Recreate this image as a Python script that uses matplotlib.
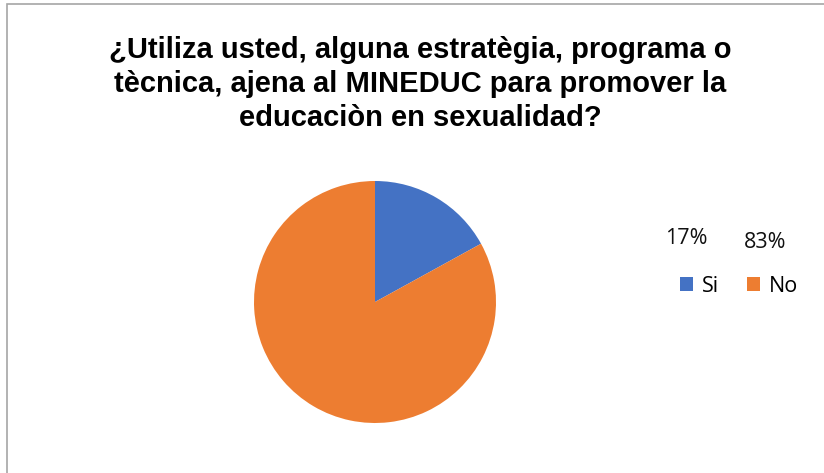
import matplotlib.pyplot as plt
from matplotlib.patches import Rectangle, Patch

# datos
labels = ['Si', 'No']
values = [17, 83]
colors = ['#4472C4', '#ED7D31']
title = '¿Utiliza usted, alguna estratègia, programa o\ntècnica, ajena al MINEDUC para promover la\neducaciòn en sexualidad?'

W, H = 824, 473
fig = plt.figure(figsize=(W / 100, H / 100), dpi=100)

# marco del gráfico
fig.patches.append(Rectangle((7 / W, -0.1), 1.2, (H - 4) / H + 0.1, transform=fig.transFigure,
                             fill=False, edgecolor='#a6a6a6', linewidth=1.2))

fig.text(420 / W, 1 - 84 / H, title, ha='center', va='center', fontsize=21,
         fontweight='bold', linespacing=1.25,
         family=['Liberation Sans Narrow', 'Liberation Sans', 'DejaVu Sans'])

# pastel
cx, cy, r = 375, 302, 121
ax = fig.add_axes([(cx - r) / W, (H - cy - r) / H, 2 * r / W, 2 * r / H])
wedges, _ = ax.pie(values, colors=colors, startangle=90, counterclock=False,
                   radius=1, wedgeprops=dict(linewidth=0))
ax.set_xlim(-1, 1)
ax.set_ylim(-1, 1)
ax.set_aspect('equal')
ax.axis('off')

# etiquetas de porcentaje
total = sum(values)
pos = [(686, 239), (765, 242)]
for v, (x, y) in zip(values, pos):
    fig.text(x / W, 1 - y / H, f'{v / total * 100:.0f}%', ha='center', va='center',
             fontsize=15.5, family=['Open Sans', 'DejaVu Sans'], color='#111111')

handles = [Patch(facecolor=c, edgecolor='none') for c in colors]
leg = fig.legend(handles, labels, ncol=2, loc='center', bbox_to_anchor=(739 / W, 1 - 286 / H),
                 frameon=False, handlelength=0.6, handleheight=0.6, handletextpad=0.4,
                 columnspacing=1.3, prop={'family': 'Open Sans', 'size': 15.5})

fig.savefig('out.png', dpi=100)
